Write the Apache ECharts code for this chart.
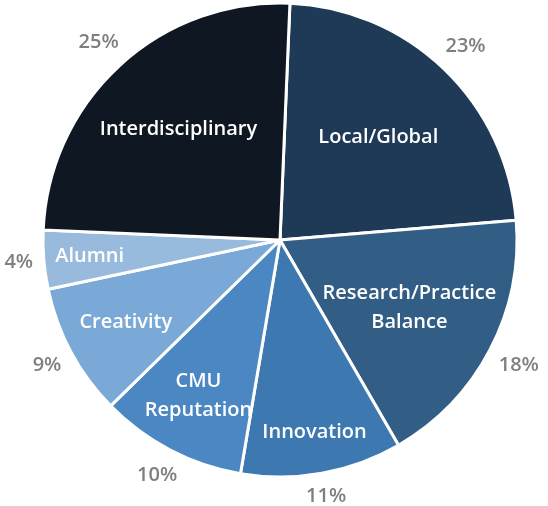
<!DOCTYPE html>
<html>
<head>
<meta charset="utf-8">
<script src="https://cdn.jsdelivr.net/npm/echarts@6/dist/echarts.min.js"></script>
<style>
  html, body { margin: 0; padding: 0; background: #ffffff; }
  #chart { width: 548px; height: 506px; }
</style>
</head>
<body>
<div id="chart"></div>
<script>
// Share of responses per theme, in clockwise order from the top
const categories = [
  'Local/Global',
  'Research/Practice\nBalance',
  'Innovation',
  'CMU\nReputation',
  'Creativity',
  'Alumni',
  'Interdisciplinary'
];
const shares = [23, 18, 11, 10, 9, 4, 25];
const sliceColors = ['#1f3a56', '#325e86', '#3e78b0', '#4b87c3', '#7ba9d7', '#97badd', '#0e1722'];

// Layout
const center = [280, 240];
const pieRadius = 237;
const startAngle = 87.6;
const font = '"Open Sans", "Noto Sans", sans-serif';
// distance of each name label from the centre, along its slice's middle
const nameDistance = [142, 146, 195, 176, 175, 191, 150];

const slices = categories.map((name, i) => ({
  name: name,
  value: shares[i],
  itemStyle: { color: sliceColors[i] }
}));

function unitFromCenter(r) {
  const dx = r.x + r.width / 2 - center[0];
  const dy = r.y + r.height / 2 - center[1];
  const len = Math.sqrt(dx * dx + dy * dy) || 1;
  return [dx / len, dy / len];
}

// Slide each name label along its slice's middle line
function placeName(params) {
  const u = unitFromCenter(params.labelRect);
  const d = nameDistance[params.dataIndex];
  return {
    x: center[0] + u[0] * d,
    y: center[1] + u[1] * d,
    align: 'center',
    verticalAlign: 'middle'
  };
}

// Push each percentage label out so that its box sits just beyond the rim
function placeOutside(params) {
  const r = params.labelRect;
  const u = unitFromCenter(r);
  const dist = pieRadius + 10 + Math.abs(u[0]) * r.width / 2 + Math.abs(u[1]) * r.height / 2;
  return {
    x: center[0] + u[0] * dist,
    y: center[1] + u[1] * dist,
    align: 'center',
    verticalAlign: 'middle'
  };
}

const chart = echarts.init(document.getElementById('chart'), null, { renderer: 'canvas' });
chart.setOption({
  animation: false,
  series: [
    {
      // the pie itself
      type: 'pie',
      center: center,
      radius: [0, pieRadius],
      startAngle: startAngle,
      clockwise: true,
      silent: true,
      label: { show: false },
      labelLine: { show: false },
      itemStyle: { borderColor: '#ffffff', borderWidth: 3 },
      data: slices
    },
    {
      // category names, drawn inside each slice
      type: 'pie',
      center: center,
      radius: [100, 240],
      startAngle: startAngle,
      clockwise: true,
      silent: true,
      itemStyle: { color: 'rgba(0,0,0,0)' },
      labelLine: { show: false },
      label: {
        show: true,
        position: 'inside',
        formatter: p => p.name,
        color: '#ffffff',
        fontFamily: font,
        fontWeight: 600,
        fontSize: 20,
        lineHeight: 29,
        align: 'center',
        overflow: 'none'
      },
      labelLayout: placeName,
      data: slices.map(s => ({ name: s.name, value: s.value }))
    },
    {
      // percentage labels just outside the rim
      type: 'pie',
      center: center,
      radius: [200, 260],
      startAngle: startAngle,
      clockwise: true,
      silent: true,
      itemStyle: { color: 'rgba(0,0,0,0)' },
      labelLine: { show: false },
      label: {
        show: true,
        position: 'inside',
        formatter: p => p.value + '%',
        color: '#7f7f7f',
        fontFamily: font,
        fontWeight: 600,
        fontSize: 20,
        overflow: 'none'
      },
      labelLayout: placeOutside,
      data: slices.map(s => ({ name: s.name, value: s.value }))
    }
  ]
});
</script>
</body>
</html>
